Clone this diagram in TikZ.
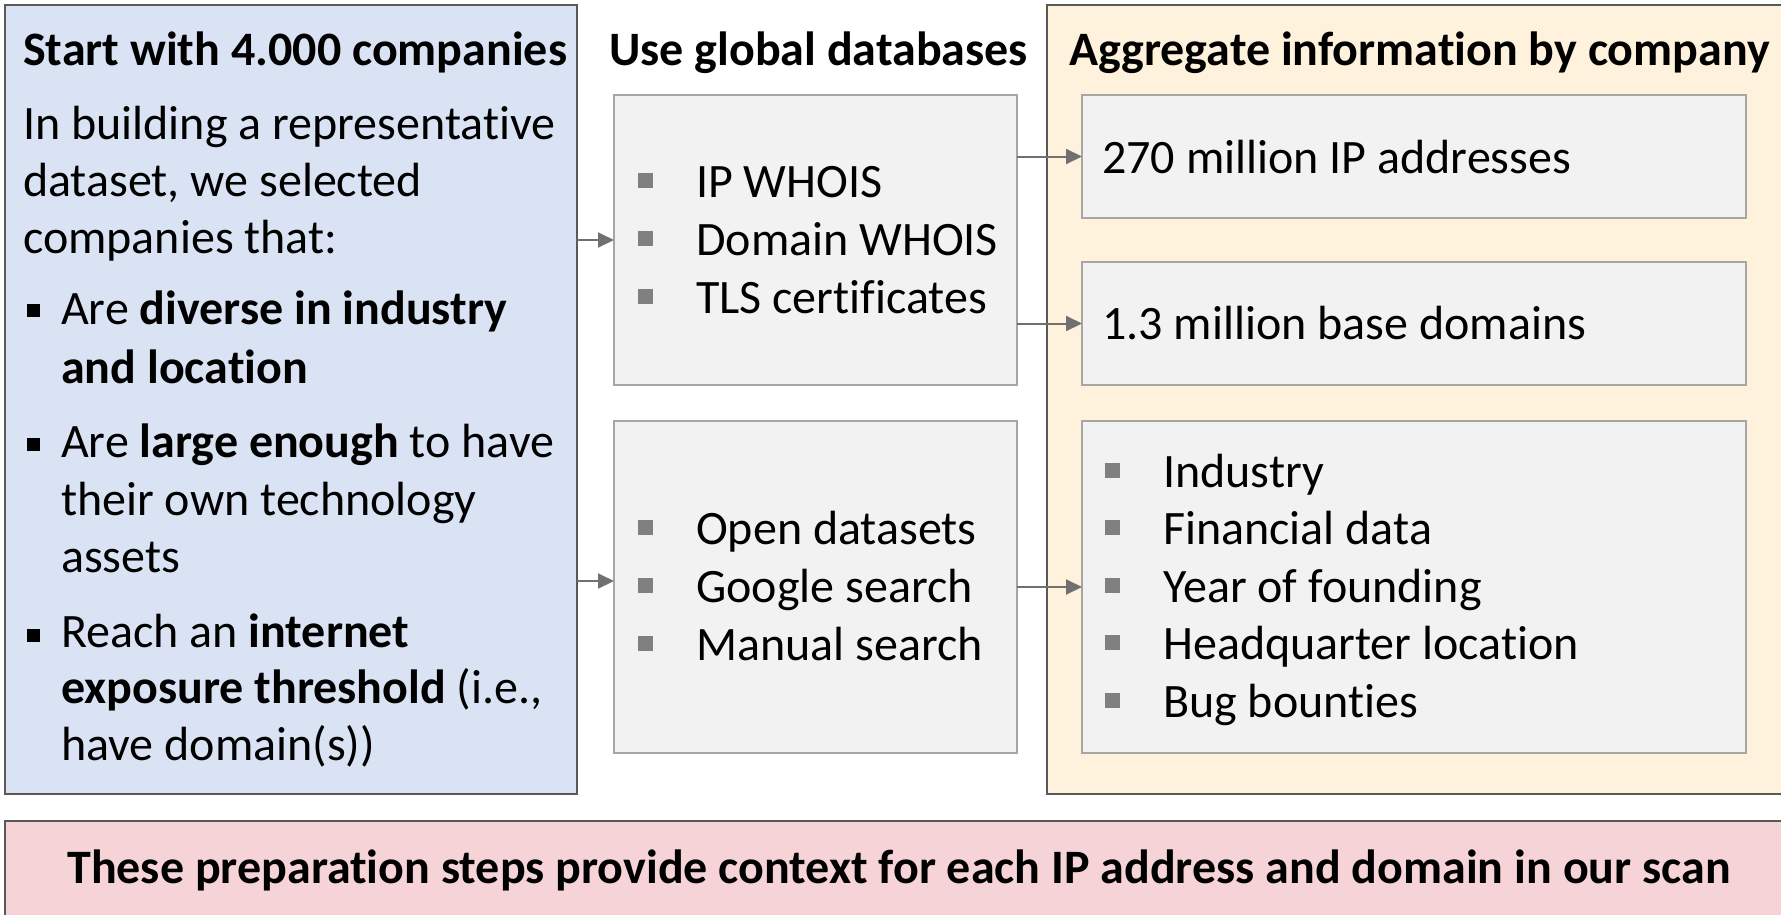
\documentclass[tikz,border=0pt]{standalone}
\usepackage{fontspec}
\setmainfont{Carlito}[Ligatures=NoCommon]
\usetikzlibrary{positioning,arrows.meta,calc}
\definecolor{myBlue}{RGB}{218,227,243}
\definecolor{myCream}{RGB}{255,242,220}
\definecolor{myPink}{RGB}{245,211,215}
\definecolor{myBox}{RGB}{242,242,242}
\definecolor{myEdge}{RGB}{89,89,89}
\definecolor{myLine}{RGB}{166,166,166}
\definecolor{myArrow}{RGB}{112,112,112}
\definecolor{myDot}{RGB}{128,128,128}
\tikzset{
  panel/.style={draw=myEdge, line width=2.5pt, anchor=north west,
    inner sep=0pt, outer sep=0pt},
  infobox/.style={draw=myLine, line width=1.5pt, fill=myBox,
    anchor=north west, inner sep=0pt, outer sep=0pt},
  txt/.style={anchor=base west, inner sep=0pt,
    font=\fontsize{48}{58}\selectfont},
  head/.style={txt, font=\fontsize{48}{58}\selectfont\bfseries},
  dot/.style={fill=myDot, minimum size=15pt, inner sep=0pt},
  blackdot/.style={fill=black, minimum size=13pt, inner sep=0pt},
  link/.style={draw=myArrow, line width=2pt,
    -{Triangle[length=16pt,width=15pt]}}
}

\begin{document}
\begin{tikzpicture}[x=1pt,y=-1pt]
  \useasboundingbox (0,0) rectangle (1781,914);
  % three columns and the footer
  \node[panel, fill=myBlue, minimum width=572pt, minimum height=789pt]
    (start) at (5,5) {};
  \node[panel, fill=myCream, minimum width=760pt, minimum height=789pt]
    (aggr) at (1047,5) {};
  \node[panel, fill=myPink, minimum width=1800pt, minimum height=120pt]
    (note) at (5,821) {};
  \node[infobox, minimum width=403pt, minimum height=290pt] (dbtop) at (614,95) {};
  \node[infobox, minimum width=403pt, minimum height=332pt] (dbbot) at (614,421) {};
  \node[infobox, minimum width=664pt, minimum height=123pt] (ips) at (1082,95) {};
  \node[infobox, minimum width=664pt, minimum height=123pt] (doms) at (1082,262) {};
  \node[infobox, minimum width=664pt, minimum height=332pt] (facts) at (1082,421) {};

  % headings
  \node[head] (title) at (23,65) {Start with 4.000 companies};
  \node[head, anchor=base] (dbhead) at (818.5,65) {Use global databases};
  \node[head, anchor=base] (aggrhead) at (1419.5,65) {Aggregate information by company};

  % selection criteria
  \node[txt] (intro1) at (23,139) {In building a representative};
  \node[txt] (intro2) at (23,196) {dataset, we selected};
  \node[txt] (intro3) at (23,253) {companies that:};
  \node[blackdot] (bul1) at (33,310) {};
  \node[txt] (crit1a) at (61,324) {Are \textbf{diverse in industry}};
  \node[txt] (crit1b) at (61,383) {\textbf{and location}};
  \node[blackdot] (bul2) at (33,444) {};
  \node[txt] (crit2a) at (61,457) {Are \textbf{large enough} to have};
  \node[txt] (crit2b) at (61,515) {their own technology};
  \node[txt] (crit2c) at (61,572) {assets};
  \node[blackdot] (bul3) at (33,635) {};
  \node[txt] (crit3a) at (61,647) {Reach an \textbf{internet}};
  \node[txt] (crit3b) at (61,703) {\textbf{exposure threshold} (i.e.,};
  \node[txt] (crit3c) at (61,760) {have domain(s))};

  % sources
  \foreach \t [count=\i] in {IP WHOIS, Domain WHOIS, TLS certificates} {
    \node[dot] (wdot\i) at (645,{180+58*(\i-1)}) {};
    \node[txt] (whois\i) at (696,{197+58*(\i-1)}) {\t};
  }
  \foreach \t [count=\i] in {Open datasets, Google search, Manual search} {
    \node[dot] (sdot\i) at (645,{527+58*(\i-1)}) {};
    \node[txt] (search\i) at (696,{544+58*(\i-1)}) {\t};
  }

  % results
  \node[txt] (ipcount) at (1102,173) {270 million IP addresses};
  \node[txt] (domcount) at (1102,339) {1.3 million base domains};
  \foreach \t [count=\i] in {Industry, Financial data, Year of founding,
      Headquarter location, Bug bounties} {
    \node[dot] (fdot\i) at (1112,{470+57.5*(\i-1)}) {};
    \node[txt] (fact\i) at (1163,{487+57.5*(\i-1)}) {\t};
  }

  \node[head, anchor=base] (summary) at (899,883)
    {These preparation steps provide context for each IP address and domain in our scan};

  % flow
  \coordinate (lowin) at ([yshift=6pt]dbbot.west);
  \draw[link] (start.east |- dbtop.west) -- (dbtop.west);
  \draw[link] (start.east |- lowin) -- (lowin);
  \draw[link] (dbtop.east |- ips.west) -- (ips.west);
  \draw[link] (dbtop.east |- doms.west) -- (doms.west);
  \draw[link] (dbbot.east |- facts.west) -- (facts.west);
\end{tikzpicture}
\end{document}
